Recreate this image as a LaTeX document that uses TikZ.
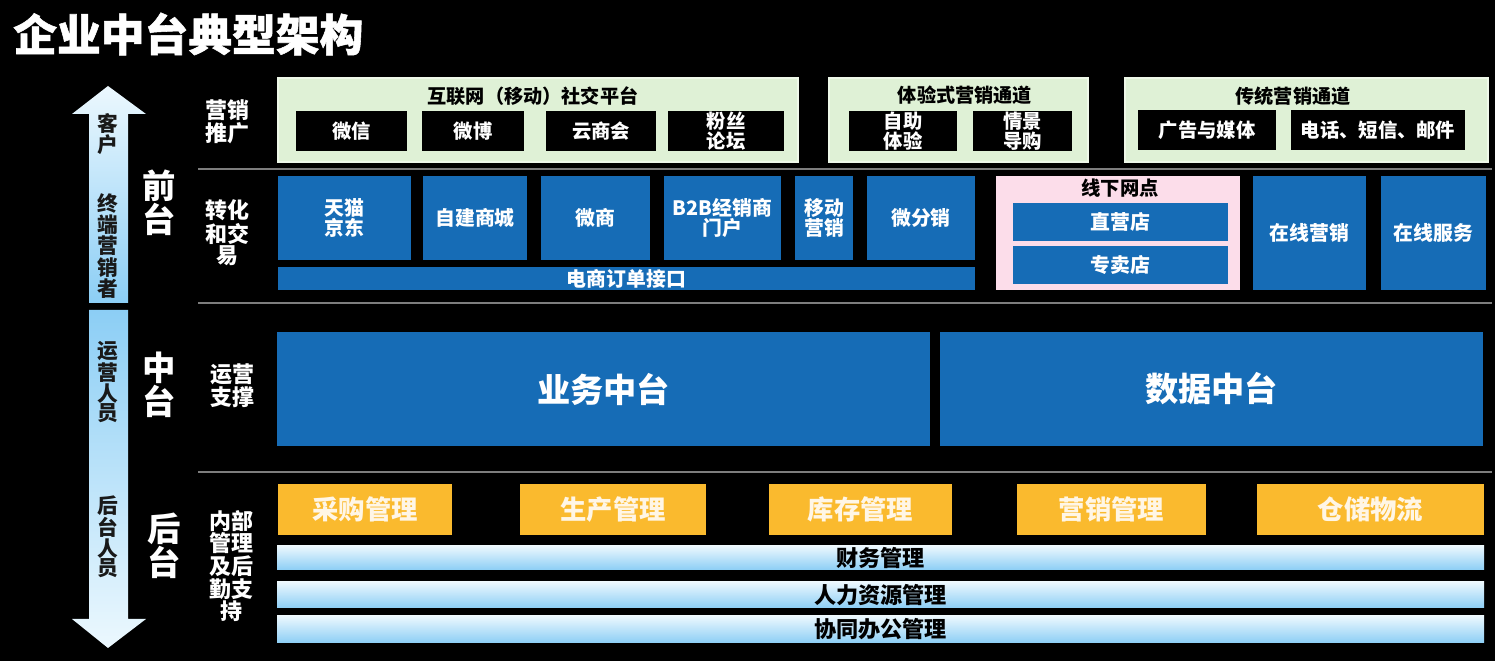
\documentclass[tikz,border=0pt]{standalone}
\usepackage{fontspec}
\setmainfont{Noto Sans CJK SC}
\newfontfamily\ztitlefont{Noto Sans CJK SC}[BoldFeatures={FakeBold=1.2}]
\usetikzlibrary{fit}
\newcommand\zfs[2]{\fontsize{#1}{#2}\selectfont}
\newcommand\zb[4]{\node[#1={#3}] (#2) {};\node[#1t] (#2t) at (#2.center) {#4};}
\definecolor{zblue}{RGB}{22,108,182}
\definecolor{zgreen}{RGB}{223,241,214}
\definecolor{zgreenb}{RGB}{238,248,233}
\definecolor{zpink}{RGB}{252,221,234}
\definecolor{zorange}{RGB}{250,186,46}
\definecolor{zotext}{RGB}{255,246,230}
\definecolor{zltop}{RGB}{236,248,254}
\definecolor{zlbot}{RGB}{140,206,245}
\definecolor{zsep}{RGB}{125,125,125}
\definecolor{zdark}{RGB}{25,25,25}
\begin{document}
\begin{tikzpicture}[x=0.02cm,y=-0.02cm,
  bx/.style={fit={#1}, inner sep=0pt, outer sep=0pt},
  tx/.style={inner sep=0pt, align=center},
  gbox/.style={bx={#1}, fill=zgreen, draw=zgreenb, line width=0.6pt},
  gtitle/.style={tx, font=\bfseries\zfs{10.9}{11}, text=black},
  kbox/.style={bx={#1}, fill=black},
  kboxt/.style={tx, text=white, font=\bfseries\zfs{11}{10.2}},
  bbox/.style={bx={#1}, fill=zblue},
  bboxt/.style={tx, text=white, font=\bfseries\zfs{11.3}{10.5}},
  pbox/.style={bx={#1}, fill=zpink},
  obox/.style={bx={#1}, fill=zorange},
  oboxt/.style={tx, text=zotext, font=\bfseries\zfs{15}{15}},
  lbar/.style={bx={#1}, top color=zltop, bottom color=zlbot},
  lbart/.style={tx, text=black, font=\bfseries\zfs{12.6}{12}},
  mbox/.style={bx={#1}, fill=zblue},
  mboxt/.style={tx, text=white, font=\bfseries\zfs{18.9}{19}},
  rowlab/.style={tx, text=white, font=\bfseries\zfs{12.5}{11}},
  biglab/.style={tx, text=white, font=\bfseries\zfs{19}{18}},
  arrlab/.style={tx, text=zdark, font=\bfseries\zfs{11.8}{10.8}},
  sepline/.style={draw=zsep, line width=0.8pt}
]
\useasboundingbox (0,0) rectangle (1495,661);
\fill[black] (0,0) rectangle (1495,661);

% title
\node[inner sep=0pt, anchor=west, text=white, font=\ztitlefont\bfseries\zfs{24.9}{25}] (title) at (13,34) {企业中台典型架构};

% side arrows
\shade[top color=zltop, bottom color=zlbot] (108,86) -- (146,114) -- (128,114) -- (128,303) -- (89,303) -- (89,114) -- (72,114) -- cycle;
\shade[top color=zlbot, bottom color=zltop] (89,310) -- (128,310) -- (128,619) -- (146,619) -- (108,648) -- (72,619) -- (89,619) -- cycle;
\node[arrlab] (a1) at (108,134) {客\\户};
\node[arrlab] (a2) at (108,246) {终\\端\\营\\销\\者};
\node[arrlab] (a3) at (108,382) {运\\营\\人\\员};
\node[arrlab] (a4) at (108,537) {后\\台\\人\\员};

% big labels
\node[biglab] (qt) at (159,203) {前\\台};
\node[biglab] (zt) at (159,385) {中\\台};
\node[biglab] (ht) at (164,546) {后\\台};

% row labels
\node[rowlab] (r1) at (227,122) {营销\\推广};
\node[rowlab] (r2) at (227,233) {转化\\和交\\易};
\node[rowlab] (r3) at (232,386) {运营\\支撑};
\node[rowlab] (r4) at (231,566) {内部\\管理\\及后\\勤支\\持};

% separators
\coordinate (s1a) at (198,169); \coordinate (s1b) at (1492,169);
\coordinate (s2a) at (198,303); \coordinate (s2b) at (1492,303);
\coordinate (s3a) at (198,472); \coordinate (s3b) at (1492,472);
\draw[sepline] (s1a) -- (s1b);
\draw[sepline] (s2a) -- (s2b);
\draw[sepline] (s3a) -- (s3b);

% marketing row
\node[gbox={(278,78) (798,162)}] (g1) {};
\node[gtitle] (g1t) at (533,96) {互联网（移动）社交平台};
\zb{kbox}{wx}{(296,111) (407,151)}{微信}
\zb{kbox}{wb}{(422,111) (524,151)}{微博}
\zb{kbox}{ysh}{(546,111) (656,151)}{云商会}
\zb{kbox}{fs}{(668,111) (784,151)}{粉丝\\论坛}

\node[gbox={(829,78) (1088,162)}] (g2) {};
\node[gtitle] (g2t) at (965,95) {体验式营销通道};
\zb{kbox}{zz}{(849,111) (957,151)}{自助\\体验}
\zb{kbox}{qj}{(973,111) (1072,151)}{情景\\导购}

\node[gbox={(1125,78) (1488,162)}] (g3) {};
\node[gtitle] (g3t) at (1293,96) {传统营销通道};
\zb{kbox}{gg}{(1138,110) (1276,150)}{广告与媒体}
\zb{kbox}{dh}{(1291,110) (1465,150)}{电话、短信、邮件}

% transaction row
\zb{bbox}{tm}{(278,176) (411,260)}{天猫\\京东}
\zb{bbox}{zj}{(423,176) (527,260)}{自建商城}
\zb{bbox}{wsh}{(541,176) (650,260)}{微商}
\zb{bbox}{b2b}{(664,176) (781,260)}{B2B经销商\\门户}
\zb{bbox}{yd}{(795,176) (853,260)}{移动\\营销}
\zb{bbox}{wfx}{(867,176) (975,260)}{微分销}
\zb{bbox}{dd}{(278,267) (975,290)}{电商订单接口}
\node[pbox={(996,176) (1240,290)}] (xx) {};
\node[gtitle, font=\bfseries\zfs{11}{11}] (xxt) at (1120,188) {线下网点};
\zb{bbox}{zy}{(1013,203) (1228,241)}{直营店}
\zb{bbox}{zm}{(1013,246) (1228,284)}{专卖店}
\zb{bbox}{zxyx}{(1253,176) (1366,290)}{在线营销}
\zb{bbox}{zxfw}{(1381,176) (1486,290)}{在线服务}

% middle
\zb{mbox}{yw}{(277,332) (930,446)}{业务中台}
\zb{mbox}{sj}{(940,332) (1483,446)}{数据中台}

% back office
\zb{obox}{cg}{(278,484) (452,535)}{采购管理}
\zb{obox}{sc}{(520,484) (706,535)}{生产管理}
\zb{obox}{kc}{(769,484) (952,535)}{库存管理}
\zb{obox}{yx}{(1017,484) (1206,535)}{营销管理}
\zb{obox}{cc}{(1257,484) (1484,535)}{仓储物流}
\zb{lbar}{cw}{(277,546) (1484,570)}{财务管理}
\zb{lbar}{rl}{(277,582) (1484,608)}{人力资源管理}
\zb{lbar}{xt}{(277,616) (1484,643)}{协同办公管理}
\end{tikzpicture}
\end{document}
